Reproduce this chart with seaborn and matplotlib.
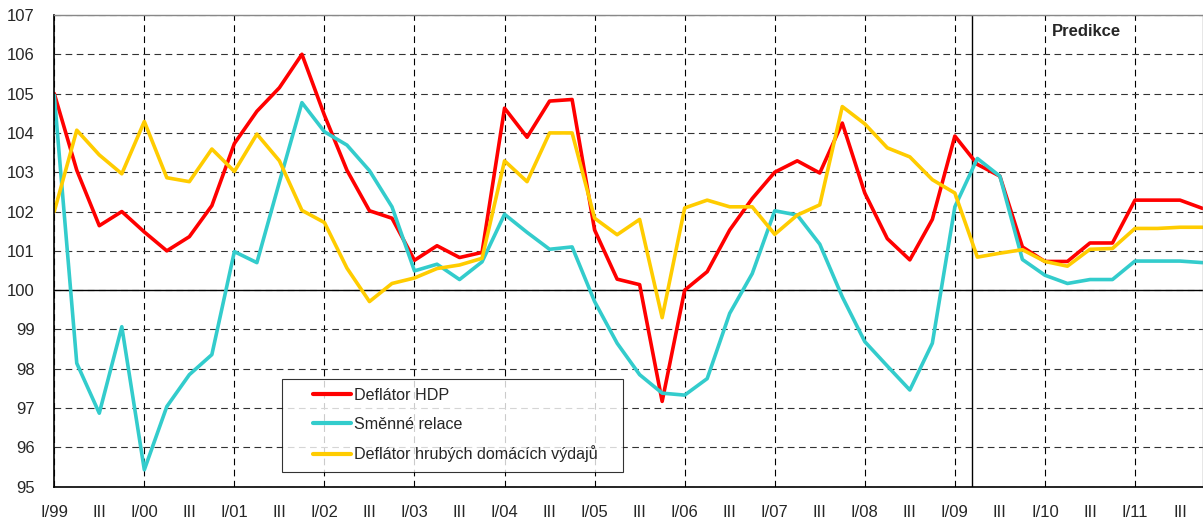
import matplotlib
matplotlib.use("Agg")
import matplotlib.pyplot as plt
import seaborn as sns
import numpy as np
import pandas as pd
from matplotlib.ticker import FixedLocator, FixedFormatter
from matplotlib.legend_handler import HandlerLine2D

# quarters I/99 .. IV/11
years = ["99", "00", "01", "02", "03", "04", "05", "06", "07", "08", "09", "10", "11"]
quarters = [f"{q}/{y}" for y in years for q in ["I", "II", "III", "IV"]]

deflator_hdp = [105.0, 103.05, 101.64, 102.0, 101.48, 101.0, 101.36, 102.15, 103.73, 104.55,
                105.15, 106.0, 104.45, 103.05, 102.02, 101.83, 100.76, 101.13, 100.83, 100.96,
                104.63, 103.89, 104.81, 104.85, 101.53, 100.28, 100.14, 97.17, 100.0, 100.47,
                101.53, 102.33, 103.0, 103.29, 102.98, 104.25, 102.47, 101.31, 100.77, 101.8,
                103.92, 103.2, 102.9, 101.1, 100.73, 100.73, 101.2, 101.2, 102.29, 102.29,
                102.29, 102.08]
smenne_relace = [104.96, 98.14, 96.87, 99.07, 95.43, 97.04, 97.85, 98.36, 100.98, 100.7,
                 102.75, 104.77, 104.03, 103.69, 103.04, 102.12, 100.49, 100.66, 100.27, 100.72,
                 101.93, 101.47, 101.04, 101.1, 99.71, 98.65, 97.85, 97.38, 97.33, 97.75,
                 99.41, 100.42, 102.02, 101.91, 101.17, 99.83, 98.69, 98.07, 97.46, 98.65,
                 102.12, 103.35, 102.9, 100.78, 100.38, 100.17, 100.27, 100.27, 100.74, 100.74,
                 100.74, 100.7]
deflator_hdv = [102.0, 104.07, 103.44, 102.96, 104.29, 102.86, 102.76, 103.59, 103.02, 103.97,
                103.29, 102.03, 101.72, 100.56, 99.71, 100.17, 100.31, 100.55, 100.64, 100.81,
                103.29, 102.76, 104.0, 104.0, 101.83, 101.41, 101.8, 99.3, 102.09, 102.29,
                102.12, 102.12, 101.42, 101.91, 102.17, 104.67, 104.23, 103.62, 103.39, 102.81,
                102.47, 100.84, 100.94, 101.03, 100.73, 100.61, 101.04, 101.06, 101.57, 101.57,
                101.6, 101.6]

series_names = ["Deflátor HDP", "Směnné relace", "Deflátor hrubých domácích výdajů"]
colors = ["#FF0000", "#33CCCC", "#FFCC00"]
forecast_start = 40.75  # between I/09 and II/09

rows = []
for name, vals in zip(series_names, [deflator_hdp, smenne_relace, deflator_hdv]):
    for i, v in enumerate(vals):
        rows.append({"idx": i, "value": v, "series": name})
df = pd.DataFrame(rows)


class IndentedLine(HandlerLine2D):
    # legend line that leaves an empty gap before it (like the Excel legend)
    def get_xdata(self, legend, xdescent, ydescent, width, height, fontsize):
        xdata, xmark = super().get_xdata(legend, xdescent, ydescent, width, height, fontsize)
        xdata = np.asarray(xdata, dtype=float)
        start = xdata[0] + 0.36 * (xdata[-1] - xdata[0])
        return np.linspace(start, xdata[-1], len(xdata)), xmark


sns.set_style("white")
plt.rcParams["font.family"] = ["Liberation Sans", "DejaVu Sans"]

fig = plt.figure(figsize=(12.03, 5.22), dpi=100)
ax = fig.add_axes([0.0451, 0.0676, 0.9545, 0.9037])

sns.lineplot(data=df, x="idx", y="value", hue="series", hue_order=series_names,
             palette=colors, linewidth=2.6, ax=ax, legend=True)

ax.set_xlim(0, len(quarters) - 1)
ax.set_ylim(95, 107)
ax.set_yticks(range(95, 108))
ax.set_xlabel("")
ax.set_ylabel("")

major = list(range(0, len(quarters), 4))
minor = list(range(2, len(quarters), 4))
ax.xaxis.set_major_locator(FixedLocator(major))
ax.xaxis.set_major_formatter(FixedFormatter([quarters[i] for i in major]))
ax.xaxis.set_minor_locator(FixedLocator(minor))
ax.xaxis.set_minor_formatter(FixedFormatter(["III"] * len(minor)))
ax.tick_params(axis="x", which="major", length=5, width=0.8, color="black",
               labelsize=12, pad=8)
ax.tick_params(axis="x", which="minor", length=0, labelsize=12, pad=13)
ax.tick_params(axis="y", length=5, width=0.8, color="black", labelsize=12, pad=9)

ax.grid(True, axis="x", which="major", color="black", linestyle=(0, (6, 4)), linewidth=0.8)
ax.grid(True, axis="y", color="#333333", linestyle=(0, (6, 4)), linewidth=0.8)
ax.set_axisbelow(True)
ax.axhline(100, color="black", linewidth=1.0, zorder=1.5)
ax.axvline(forecast_start, color="black", linewidth=1.0, zorder=1.5)

for side in ["left", "bottom"]:
    ax.spines[side].set_color("black")
    ax.spines[side].set_linewidth(1.2)
for side in ["top", "right"]:
    ax.spines[side].set_color("#888888")
    ax.spines[side].set_linewidth(1.0)

ax.text(0.8685, 0.964, "Predikce", transform=ax.transAxes, fontsize=12,
        fontweight="bold", ha="left", va="center")

handles, labels = ax.get_legend_handles_labels()
leg = ax.legend(handles, labels, loc="lower left", bbox_to_anchor=(0.198, 0.032, 0.297, 0.2),
                mode="expand", fontsize=11.6, frameon=True, fancybox=False,
                handlelength=3.75, handletextpad=0.2, borderpad=0.57, labelspacing=0.86,
                borderaxespad=0, handler_map={plt.Line2D: IndentedLine()})
leg.get_frame().set_edgecolor("black")
leg.get_frame().set_linewidth(0.8)
for line in leg.get_lines():
    line.set_linewidth(3)

fig.savefig("out.png", dpi=100)
